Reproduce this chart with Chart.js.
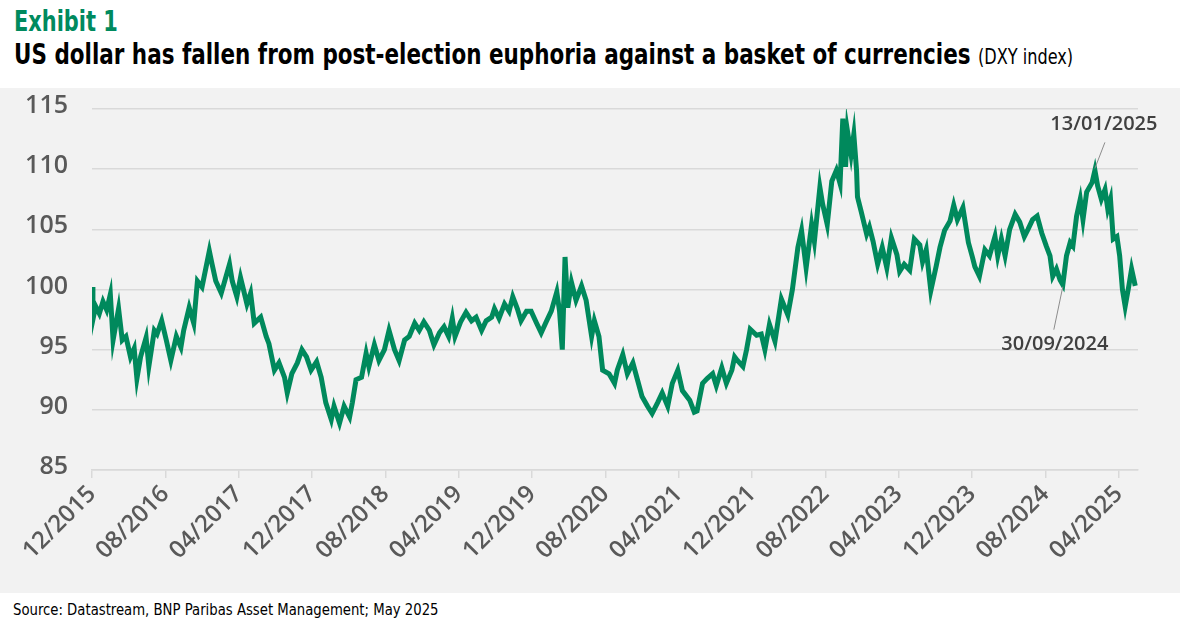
<!DOCTYPE html>
<html>
<head>
<meta charset="utf-8">
<script src="https://cdn.jsdelivr.net/npm/chart.js@4.4.1/dist/chart.umd.min.js"></script>
<style>
  html, body { margin: 0; padding: 0; background: #fff; }
  body { width: 1184px; height: 620px; position: relative; overflow: hidden; }
  .narrow { font-family: "DejaVu Sans Condensed", "DejaVu Sans", sans-serif; transform-origin: 0 0; white-space: nowrap; }
  #exhibit { position: absolute; left: 14px; top: 8px; font-weight: bold; font-size: 28px; line-height: 28px; color: #008a5e; transform: scaleX(0.83); }
  #title { position: absolute; left: 14px; top: 41px; font-weight: bold; font-size: 28px; line-height: 28px; color: #000; transform: scaleX(0.853); }
  #title span { font-weight: normal; font-size: 21px; }
  #plot { position: absolute; left: 0; top: 88px; width: 1180px; height: 505px; background: #f2f2f2; }
  #source { position: absolute; left: 13px; top: 601px; font-size: 16px; line-height: 18px; color: #000; transform: scaleX(0.92); }
</style>
</head>
<body>
<div id="exhibit" class="narrow">Exhibit 1</div>
<div id="title" class="narrow">US dollar has fallen from post-election euphoria against a basket of currencies <span>(DXY index)</span></div>
<div id="plot"><canvas id="chart" width="1180" height="505"></canvas></div>
<div id="source" class="narrow">Source: Datastream, BNP Paribas Asset Management; May 2025</div>
<script>
// months elapsed since 12/2015
const monthIdx = [
  0, 0.1, 0.4, 0.8, 1.2, 1.6, 2.0, 2.3, 2.9, 3.3, 3.7, 4.2, 4.6, 4.9, 5.3, 5.9, 6.2, 6.8, 7.1, 7.6,
  8.1, 8.6, 9.2, 9.7, 10.0, 10.6, 11.1, 11.5, 12.0, 12.8, 13.1, 13.5, 14.1, 15.0, 15.3, 15.8, 16.2, 16.9, 17.3, 17.7,
  18.4, 19.0, 19.3, 19.9, 20.4, 21.0, 21.3, 21.8, 22.4, 22.9, 23.4, 23.9, 24.5, 25.0, 25.5, 26.1, 26.4, 27.0, 27.5, 28.1,
  28.4, 28.8, 29.4, 29.9, 30.2, 30.8, 31.3, 31.9, 32.4, 33.0, 33.5, 34.1, 34.6, 35.2, 35.7, 36.2, 36.8, 37.3, 37.9, 38.4,
  38.9, 39.3, 39.6, 40.2, 40.8, 41.4, 41.9, 42.5, 43.0, 43.6, 43.9, 44.4, 45.0, 45.5, 45.9, 46.4, 46.8, 47.4, 47.9, 48.5,
  49.0, 49.6, 50.1, 50.7, 51.0, 51.3, 51.6, 51.9, 52.3, 52.8, 53.4, 53.9, 54.5, 54.8, 55.3, 55.7, 56.4, 57.0, 57.3, 57.9,
  58.4, 59.0, 59.5, 60.0, 60.6, 61.1, 61.7, 62.2, 62.8, 63.3, 63.9, 64.4, 65.2, 65.7, 66.0, 66.6, 67.1, 67.7, 68.1, 68.7,
  69.2, 69.8, 70.1, 70.4, 71.0, 71.4, 71.8, 72.5, 73.0, 73.4, 73.9, 74.5, 75.2, 75.9, 76.4, 77.0, 77.4, 77.9, 78.5, 78.8,
  79.4, 79.7, 80.2, 80.7, 81.2, 81.6, 81.9, 82.2, 82.4, 82.8, 83.1, 83.4, 83.5, 83.9, 84.5, 84.8, 85.2, 85.7, 86.2, 86.7,
  87.2, 87.8, 88.1, 88.6, 89.2, 89.7, 90.3, 90.6, 91.0, 91.5, 92.1, 92.5, 93.0, 93.6, 94.0, 94.4, 95.0, 95.6, 96.0, 96.3,
  96.8, 97.4, 97.9, 98.5, 98.8, 99.2, 99.6, 100.1, 100.7, 101.2, 101.7, 102.1, 102.6, 103.1, 103.6, 104.1, 104.5, 104.8, 105.2, 105.6,
  105.9, 106.3, 106.7, 107.0, 107.4, 107.8, 108.1, 108.5, 109.1, 109.4, 109.7, 110.1, 110.5, 110.8, 111.1, 111.4, 111.8, 112.1, 112.4, 112.7,
  113.1, 113.4, 113.8
];

const dxy = [
  100.2, 97.5, 98.6, 98.0, 99.0, 98.3, 99.6, 95.8, 98.4, 95.8, 96.1, 94.4, 95.1, 92.6, 94.4, 96.0, 93.6, 96.6, 96.3, 97.4,
  95.8, 94.1, 96.1, 95.2, 96.6, 98.5, 97.2, 100.7, 100.2, 103.2, 102.1, 100.7, 99.7, 102.1, 100.7, 99.4, 101.0, 98.8, 99.7, 97.2,
  97.7, 96.1, 95.5, 93.3, 93.9, 92.7, 91.4, 93.0, 93.9, 95.0, 94.4, 93.3, 94.0, 92.7, 90.6, 89.2, 90.3, 88.9, 90.3, 89.4,
  90.6, 92.5, 92.7, 94.7, 93.6, 95.4, 94.1, 95.0, 96.6, 95.0, 94.1, 95.8, 96.1, 97.2, 96.6, 97.3, 96.6, 95.4, 96.4, 96.9,
  96.1, 97.6, 96.1, 97.3, 98.1, 97.4, 97.7, 96.6, 97.4, 97.7, 98.4, 97.6, 98.8, 98.2, 99.4, 98.4, 97.4, 98.2, 98.2, 97.2,
  96.4, 97.4, 98.2, 99.8, 98.2, 95.0, 102.7, 98.5, 100.6, 99.1, 100.3, 99.1, 96.1, 97.4, 96.1, 93.3, 93.0, 92.2, 93.3, 94.6,
  93.0, 93.9, 92.5, 91.1, 90.3, 89.7, 90.6, 91.4, 90.3, 92.2, 93.3, 91.6, 90.8, 89.8, 89.9, 92.2, 92.6, 93.0, 92.0, 93.5,
  92.2, 93.3, 94.4, 94.1, 93.6, 95.0, 96.7, 96.2, 96.3, 95.0, 97.1, 95.7, 99.2, 97.9, 100.0, 103.5, 104.9, 101.8, 105.4, 104.0,
  108.5, 107.1, 105.4, 109.0, 109.9, 108.8, 114.2, 110.2, 113.2, 111.2, 112.9, 109.9, 107.7, 106.5, 104.6, 105.2, 104.0, 102.1, 103.5, 101.8,
  104.3, 102.9, 101.5, 102.1, 101.6, 104.2, 103.7, 102.3, 103.3, 99.9, 102.0, 103.5, 104.9, 105.7, 107.0, 105.8, 106.8, 103.9, 102.8, 101.9,
  101.1, 103.3, 102.8, 104.4, 102.8, 104.2, 102.8, 105.0, 106.25, 105.6, 104.4, 105.0, 105.8, 106.1, 104.7, 103.6, 102.8, 101.1, 101.7, 100.8,
  100.4, 102.8, 103.9, 103.6, 106.1, 107.5, 105.8, 108.1, 108.9, 109.9, 108.6, 107.5, 108.3, 106.7, 107.5, 104.2, 104.4, 102.8, 100.0, 98.6,
  100.3, 101.7, 100.3
];

const tickMonths = [0, 8, 16, 24, 32, 40, 48, 56, 64, 72, 80, 88, 96, 104, 112];
const tickLabels = ['12/2015', '08/2016', '04/2017', '12/2017', '08/2018', '04/2019', '12/2019', '08/2020',
  '04/2021', '12/2021', '08/2022', '04/2023', '12/2023', '08/2024', '04/2025'];
const yTicks = [85, 90, 95, 100, 105, 110, 115];

// callouts
const noteLabels = ['13/01/2025', '30/09/2024'];
const noteMonths = [109.4, 105.9];
const noteValues = [109.9, 100.4];

const GREEN = '#00895c';
const GRID = '#d9d9d9';
const LABEL = '#595959';

const calloutPlugin = {
  id: 'callouts',
  afterDatasetsDraw(chart) {
    const ctx = chart.ctx;
    const xs = chart.scales.x, ys = chart.scales.y;
    // line end and text offsets, px
    const offs = [
      { lx: 10, ly: -28, tx: 9, ty: -46 },
      { lx: -9, ly: 45, tx: -8, ty: 60 }
    ];
    ctx.save();
    noteLabels.forEach((lbl, i) => {
      const px = xs.getPixelForValue(noteMonths[i]);
      const py = ys.getPixelForValue(noteValues[i]);
      const o = offs[i];
      ctx.strokeStyle = '#8c8c8c';
      ctx.lineWidth = 1;
      ctx.beginPath();
      ctx.moveTo(px, py + (o.ly < 0 ? -2 : 2));
      ctx.lineTo(px + o.lx, py + o.ly);
      ctx.stroke();
      ctx.fillStyle = '#404040';
      ctx.font = '600 20px "Open Sans", sans-serif';
      ctx.textAlign = 'center';
      ctx.textBaseline = 'middle';
      ctx.fillText(lbl, px + o.tx, py + o.ty);
    });
    ctx.restore();
  }
};

new Chart(document.getElementById('chart'), {
  type: 'line',
  data: {
    datasets: [{
      data: monthIdx.map((m, i) => ({ x: m, y: dxy[i] })),
      borderColor: GREEN,
      borderWidth: 5,
      pointRadius: 0,
      tension: 0,
      fill: false
    }]
  },
  options: {
    responsive: false,
    animation: false,
    layout: { padding: { top: 21, right: 42, left: 0, bottom: 0 } },
    plugins: {
      legend: { display: false },
      tooltip: { enabled: false }
    },
    scales: {
      x: {
        type: 'linear',
        min: 0,
        max: 114.1,
        afterBuildTicks: function(scale) {
          scale.ticks = tickMonths.map(v => ({ value: v }));
        },
        afterFit: function(scale) {
          scale.height = 123;
        },
        ticks: {
          autoSkip: false,
          maxRotation: 45,
          minRotation: 45,
          padding: 2,
          color: LABEL,
          font: { family: '"Open Sans", sans-serif', size: 24, weight: '600' },
          callback: function(value, index) {
            return tickLabels[index];
          }
        },
        grid: {
          drawOnChartArea: false,
          color: GRID,
          lineWidth: 1.5,
          tickLength: 8
        },
        border: { color: GRID, width: 1.5 }
      },
      y: {
        min: 85,
        max: 115,
        afterBuildTicks: function(scale) {
          scale.ticks = yTicks.map(v => ({ value: v }));
        },
        afterFit: function(scale) {
          // fixed gutter; label overhang is covered by layout padding
          scale.width = 92;
          scale.paddingTop = 0;
          scale.paddingBottom = 0;
        },
        ticks: {
          padding: 24,
          labelOffset: -3,
          color: LABEL,
          font: { family: '"Open Sans", sans-serif', size: 25, weight: '600' }
        },
        grid: {
          color: GRID,
          lineWidth: 1.5,
          drawTicks: false
        },
        border: { display: false }
      }
    }
  },
  plugins: [calloutPlugin]
});
</script>
</body>
</html>
